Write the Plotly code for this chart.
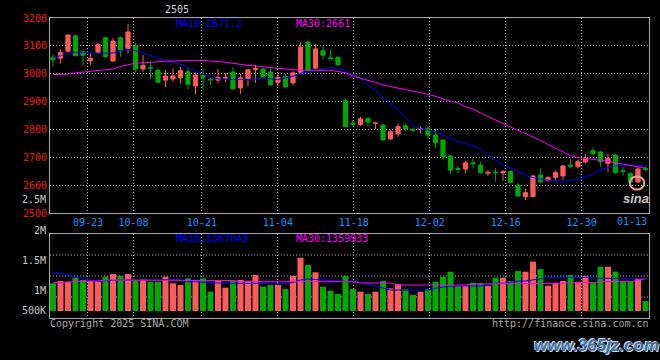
import plotly.graph_objects as go

# ---------------- data ----------------
dates = [
    "09-12", "09-13", "09-18", "09-19", "09-20", "09-23", "09-24", "09-25", "09-26", "09-27",
    "09-30", "10-08", "10-09", "10-10", "10-11", "10-14", "10-15", "10-16", "10-17", "10-18",
    "10-21", "10-22", "10-23", "10-24", "10-25", "10-28", "10-29", "10-30", "10-31", "11-01",
    "11-04", "11-05", "11-06", "11-07", "11-08", "11-11", "11-12", "11-13", "11-14", "11-15",
    "11-18", "11-19", "11-20", "11-21", "11-22", "11-25", "11-26", "11-27", "11-28", "11-29",
    "12-02", "12-03", "12-04", "12-05", "12-06", "12-09", "12-10", "12-11", "12-12", "12-13",
    "12-16", "12-17", "12-18", "12-19", "12-20", "12-23", "12-24", "12-25", "12-26", "12-27",
    "12-30", "12-31", "01-02", "01-03", "01-06", "01-07", "01-08", "01-09", "01-10", "01-13",
]
opens = [
    3059, 3056, 3081, 3136, 3079, 3046, 3077, 3129, 3046, 3129,
    3091, 3099, 3017, 3022, 3013, 2977, 2981, 2986, 3007, 2956,
    2995, 2980, 2977, 2984, 3006, 2949, 2981, 3015, 3017, 3006,
    2969, 2990, 2967, 3005, 3114, 3020, 3083, 3057, 3059, 2903,
    2823, 2818, 2840, 2821, 2816, 2766, 2784, 2813, 2799, 2801,
    2804, 2780, 2762, 2705, 2660, 2658, 2680, 2672, 2643, 2647,
    2644, 2649, 2600, 2558, 2559, 2636, 2618, 2628, 2633, 2672,
    2666, 2684, 2724, 2719, 2678, 2708, 2652, 2642, 2611, 2660,
]
highs = [
    3068, 3088, 3141, 3140, 3081, 3073, 3112, 3133, 3129, 3133,
    3178, 3109, 3067, 3039, 3016, 3013, 3019, 3025, 3019, 3004,
    3019, 2985, 3017, 3002, 3023, 2999, 3017, 3032, 3021, 3020,
    3002, 2999, 3009, 3114, 3118, 3106, 3100, 3085, 3060, 2908,
    2835, 2846, 2843, 2828, 2820, 2798, 2820, 2822, 2806, 2810,
    2810, 2804, 2764, 2708, 2669, 2687, 2696, 2684, 2654, 2661,
    2654, 2652, 2607, 2588, 2636, 2660, 2632, 2652, 2672, 2696,
    2691, 2712, 2735, 2722, 2712, 2712, 2666, 2645, 2666, 2666,
]
lows = [
    3026, 3037, 3079, 3063, 3032, 3031, 3072, 3057, 3043, 3061,
    3073, 3004, 3007, 2981, 2966, 2951, 2971, 2965, 2944, 2927,
    2944, 2961, 2967, 2969, 2943, 2927, 2955, 2967, 2985, 2957,
    2955, 2951, 2958, 3002, 3008, 3018, 3050, 3053, 3030, 2808,
    2810, 2812, 2810, 2800, 2762, 2762, 2774, 2795, 2790, 2786,
    2768, 2732, 2690, 2640, 2642, 2642, 2660, 2642, 2633, 2612,
    2616, 2607, 2559, 2546, 2556, 2607, 2612, 2618, 2618, 2660,
    2660, 2678, 2705, 2666, 2648, 2640, 2633, 2607, 2607, 2650,
]
closes = [
    3050, 3076, 3139, 3065, 3066, 3055, 3105, 3061, 3117, 3085,
    3150, 3017, 3029, 3020, 2969, 2992, 2992, 3011, 2962, 2995,
    2987, 2978, 2987, 2986, 2946, 2985, 3014, 3018, 2988, 2960,
    2987, 2952, 3003, 3096, 3011, 3089, 3066, 3054, 3032, 2810,
    2818, 2838, 2826, 2823, 2762, 2792, 2810, 2801, 2797, 2803,
    2780, 2752, 2702, 2654, 2657, 2680, 2677, 2645, 2646, 2645,
    2648, 2609, 2561, 2573, 2633, 2611, 2627, 2645, 2669, 2668,
    2684, 2696, 2713, 2684, 2696, 2645, 2649, 2611, 2658, 2656,
]
ma10 = [
    3059, 3064, 3076, 3077, 3077, 3077, 3073, 3073, 3074, 3082,
    3086, 3083, 3074, 3065, 3056, 3049, 3042, 3033, 3022, 3010,
    2997, 2987, 2981, 2979, 2979, 2979, 2979, 2981, 2985, 2981,
    2979, 2985, 2991, 3001, 3006, 3010, 3015, 3021, 3021, 3012,
    2995, 2983, 2961, 2938, 2916, 2895, 2870, 2843, 2812, 2802,
    2798, 2791, 2780, 2767, 2757, 2749, 2741, 2730, 2708, 2690,
    2672, 2660, 2647, 2635, 2627, 2622, 2618, 2615, 2615, 2618,
    2620, 2629, 2640, 2654, 2663, 2669, 2669, 2669, 2670, 2671.2,
]
ma30 = [
    2997, 2997, 2998, 3003, 3006, 3007, 3010, 3013, 3017, 3026,
    3032, 3038, 3039, 3042, 3043, 3045, 3046, 3047, 3048, 3048,
    3047, 3046, 3044, 3041, 3037, 3034, 3030, 3028, 3026, 3022,
    3019, 3017, 3014, 3013, 3013, 3013, 3013, 3012, 3008, 3003,
    2992, 2983, 2976, 2969, 2960, 2954, 2949, 2944, 2938, 2932,
    2926, 2919, 2909, 2902, 2895, 2882, 2873, 2859, 2846, 2834,
    2821, 2809, 2796, 2785, 2773, 2760, 2746, 2732, 2719, 2706,
    2699, 2696, 2693, 2690, 2686, 2680, 2675, 2671, 2666, 2661,
]
volumes = [
    1173000, 1270000, 1241000, 1410000, 1313000, 1270000, 1241000, 1453000, 1567000, 1482000,
    1567000, 1313000, 1342000, 1241000, 1241000, 1453000, 1173000, 1101000, 1385000, 1313000,
    1385000, 817000, 1270000, 987000, 1270000, 1313000, 1270000, 1525000, 1029000, 1101000,
    1101000, 932000, 1482000, 2257000, 1948000, 1639000, 1029000, 860000, 720000, 1482000,
    932000, 817000, 720000, 817000, 1270000, 961000, 1143000, 919000, 678000, 817000,
    919000, 1241000, 1453000, 1664000, 1059000, 1059000, 1199000, 1173000, 1059000, 1410000,
    1410000, 1270000, 1694000, 1664000, 2088000, 1779000, 1071000, 1173000, 1270000, 1525000,
    1241000, 1482000, 1199000, 1876000, 1876000, 1664000, 1270000, 1270000, 1355000, 424000,
]
vol_ma10 = [
    1597000, 1597000, 1546000, 1440000, 1376000, 1292000, 1270000, 1292000, 1313000, 1313000,
    1313000, 1313000, 1313000, 1313000, 1313000, 1313000, 1334000, 1334000, 1249000, 1228000,
    1228000, 1186000, 1173000, 1173000, 1173000, 1173000, 1173000, 1173000, 1173000, 1173000,
    1173000, 1173000, 1207000, 1313000, 1355000, 1334000, 1326000, 1300000, 1283000, 1249000,
    1241000, 1207000, 1143000, 1059000, 961000, 889000, 889000, 889000, 889000, 889000,
    889000, 961000, 1016000, 1059000, 1059000, 1059000, 1059000, 1059000, 1122000, 1173000,
    1173000, 1228000, 1270000, 1270000, 1313000, 1385000, 1419000, 1419000, 1427000, 1427000,
    1427000, 1427000, 1419000, 1385000, 1385000, 1385000, 1385000, 1385000, 1375000, 1367043,
]
vol_ma30 = [
    1199000, 1199000, 1220000, 1241000, 1241000, 1241000, 1270000, 1313000, 1313000, 1313000,
    1313000, 1313000, 1313000, 1313000, 1313000, 1313000, 1292000, 1292000, 1292000, 1292000,
    1292000, 1292000, 1292000, 1292000, 1292000, 1241000, 1241000, 1241000, 1241000, 1241000,
    1241000, 1241000, 1241000, 1270000, 1270000, 1270000, 1270000, 1241000, 1241000, 1241000,
    1241000, 1186000, 1186000, 1186000, 1186000, 1186000, 1101000, 1101000, 1101000, 1101000,
    1101000, 1101000, 1101000, 1101000, 1101000, 1101000, 1143000, 1143000, 1143000, 1143000,
    1143000, 1143000, 1143000, 1173000, 1173000, 1173000, 1173000, 1173000, 1173000, 1199000,
    1199000, 1199000, 1199000, 1241000, 1241000, 1241000, 1241000, 1241000, 1313000, 1359933,
]
tick_dates = ["09-23", "10-08", "10-21", "11-04", "11-18", "12-02", "12-16", "12-30", "01-13"]
contract = "2505"

# ---------------- styling ----------------
UP = "#FF5A5A"
DOWN = "#00A800"
BLUE = "#0000FF"
MAGENTA = "#FF00FF"
GRID = "#B8B8B8"
BORDER = "#A8A8A8"
MONO = "DejaVu Sans Mono"

x = list(range(len(dates)))
# Sina draws its date grid on a slightly different step than the bars
grid_step = (600 / 79) / 7.5
tickvals = [dates.index(d) * grid_step - 0.4 for d in tick_dates]

fig = go.Figure()
fig.add_trace(go.Candlestick(
    x=x, open=opens, high=highs, low=lows, close=closes,
    increasing=dict(line=dict(color=UP, width=1), fillcolor=UP),
    decreasing=dict(line=dict(color=DOWN, width=1), fillcolor=DOWN),
    whiskerwidth=0, xaxis="x", yaxis="y", showlegend=False, hoverinfo="skip",
))
fig.add_trace(go.Scatter(x=x, y=ma10, mode="lines", line=dict(color=BLUE, width=1),
                         xaxis="x", yaxis="y", showlegend=False, hoverinfo="skip"))
fig.add_trace(go.Scatter(x=x, y=ma30, mode="lines", line=dict(color=MAGENTA, width=1),
                         xaxis="x", yaxis="y", showlegend=False, hoverinfo="skip"))

vol_colors = [UP if c >= o else DOWN for o, c in zip(opens, closes)]
fig.add_trace(go.Bar(x=x, y=volumes, width=0.8, marker=dict(color=vol_colors, line=dict(width=0)),
                     xaxis="x2", yaxis="y2", showlegend=False, hoverinfo="skip"))
fig.add_trace(go.Scatter(x=x, y=vol_ma10, mode="lines", line=dict(color=BLUE, width=1),
                         xaxis="x2", yaxis="y2", showlegend=False, hoverinfo="skip"))
fig.add_trace(go.Scatter(x=x, y=vol_ma30, mode="lines", line=dict(color=MAGENTA, width=1),
                         xaxis="x2", yaxis="y2", showlegend=False, hoverinfo="skip"))

axis_common = dict(showline=True, mirror=True, linecolor=BORDER, linewidth=1,
                   zeroline=False, ticks="", gridcolor=GRID, gridwidth=1, griddash="1px,2px")

fig.update_layout(
    width=660, height=360,
    margin=dict(l=50, r=11, t=18, b=42, pad=0),
    paper_bgcolor="black", plot_bgcolor="black",
    showlegend=False, boxgap=0.2, bargap=0.2,
    xaxis=dict(domain=[0, 1], anchor="y", range=[-0.4, 79.47], tickmode="array",
               tickvals=tickvals, ticktext=tick_dates, showgrid=True,
               tickfont=dict(family=MONO, size=10, color="#1E90FF"),
               rangeslider=dict(visible=False), **axis_common),
    yaxis=dict(domain=[0.35, 1], anchor="x", range=[2500, 3200], tickmode="array",
               tickvals=list(range(2500, 3201, 100)), showgrid=True,
               tickfont=dict(family=MONO, size=10, color="#F01818"), **axis_common),
    xaxis2=dict(domain=[0, 1], anchor="y2", matches="x", tickmode="array",
                tickvals=tickvals, showticklabels=False, showgrid=True, **axis_common),
    yaxis2=dict(domain=[0, 0.28], anchor="x2", range=[-296000, 3261000],
                showticklabels=False, showgrid=False, **axis_common),
)

# horizontal dotted grid of the volume panel (quarters of the panel)
for q in (0.25, 0.5, 0.75):
    fig.add_shape(type="line", xref="x2 domain", yref="y2 domain", x0=0, x1=1, y0=q, y1=q,
                  line=dict(color=GRID, width=1, dash="1px,2px"), layer="below")


def label(text, xp, yp, color, xanchor="left", size=10, family=MONO, **font_extra):
    fig.add_annotation(text=text, xref="paper", yref="paper", x=xp, y=yp,
                       xanchor=xanchor, yanchor="middle", showarrow=False,
                       font=dict(family=family, size=size, color=color, **font_extra))


label(contract, 0.2120, 1.027, "#D8D8D8", xanchor="center")
label(f"MA10:{ma10[-1]}", 0.2070, 0.981, BLUE)
label(f"MA30:{ma30[-1]:.0f}", 0.4075, 0.981, MAGENTA)
label(f"MA10:{vol_ma10[-1]}", 0.2070, 0.264, BLUE)
label(f"MA30:{vol_ma30[-1]}", 0.4075, 0.264, MAGENTA)

vol_labels = [("2.5M", 0.394), ("2M", 0.292), ("1.5M", 0.192), ("1M", 0.092), ("500K", 0.024)]
for t, yp in vol_labels:
    label(t, -0.004, yp, "#C8C8C8", xanchor="right")

label(tick_dates[-1], 1.0, 0.323, "#1E90FF", xanchor="right")
label("Copyright 2025 SINA.COM", -0.004, -0.019, "#A8A8A8")
label("http://finance.sina.com.cn", 1.004, -0.019, "#A8A8A8", xanchor="right")

# watermarks
label("sina", 0.978, 0.40, "#C8C8C8", xanchor="center", size=13,
      family="Liberation Sans", weight="bold", style="italic")
fig.add_shape(type="circle", xref="paper", yref="paper", x0=0.968, x1=0.992, y0=0.428, y1=0.472,
              line=dict(color="#F4A0A0", width=2))
label("www.365jz.com", 0.912, -0.092, "#3E6C9E", xanchor="center", size=17,
      family="Liberation Sans", weight="bold", style="italic",
      shadow="1px 1px 0 #C8D8E8, -1px -1px 0 #C8D8E8")

# the page itself: no default body margin, black background
page_js = ("document.body.style.margin='0';document.body.style.background='black';"
           "document.body.style.overflow='hidden';")
fig.write_html("out.html", post_script=page_js, config={"displayModeBar": False})
